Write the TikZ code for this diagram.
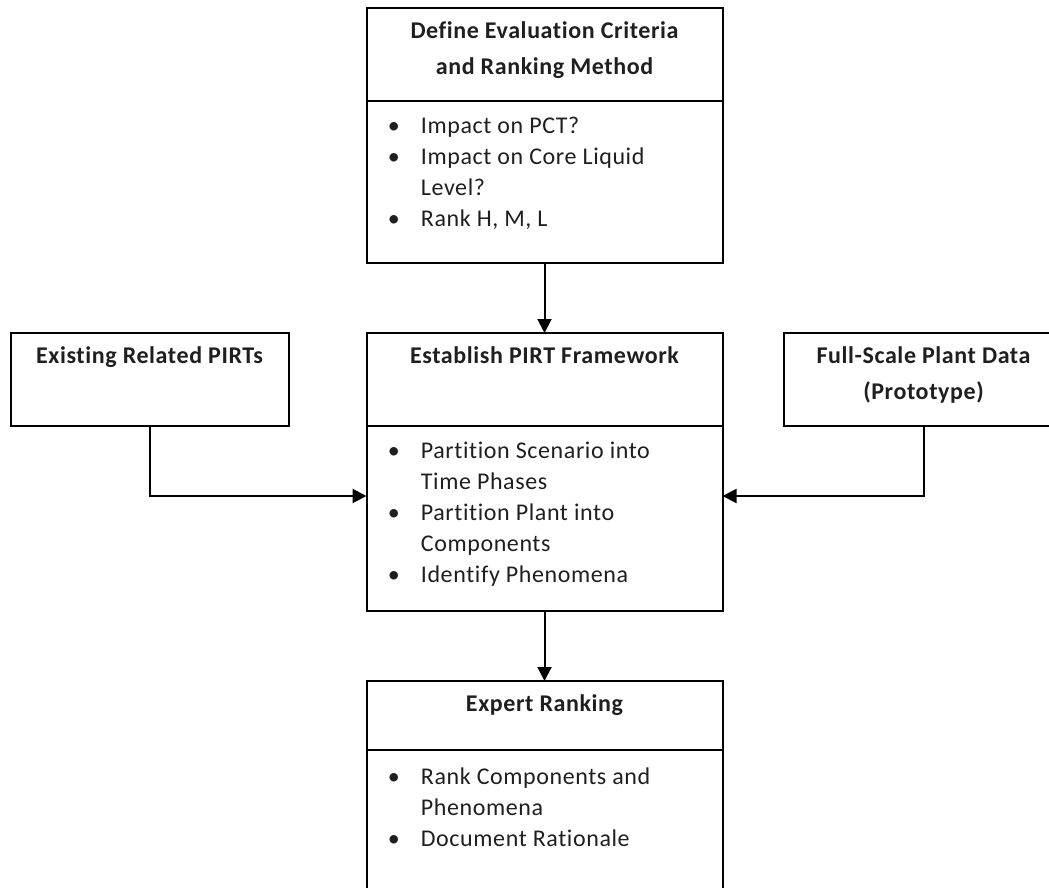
\documentclass[tikz,border=0pt]{standalone}
\usepackage{fontspec}
\setmainfont[Ligatures=NoCommon, LetterSpace=2.5]{Carlito}
\usetikzlibrary{positioning,arrows.meta}

\tikzset{
  hd/.style={draw, line width=1pt, minimum width=178pt, minimum height=46.5pt, inner sep=0pt, outer sep=0pt},
  bd/.style={draw, line width=1pt, minimum width=178pt, inner sep=0pt, outer sep=0pt},
  ttl/.style={font=\fontsize{12}{18}\selectfont\bfseries, text=black!88, align=center, anchor=north, inner sep=0pt},
  txt/.style={font=\fontsize{12}{15.5}\selectfont, text=black!88, align=left, anchor=north west, inner sep=0pt},
  link/.style={line width=1pt, -{Triangle[length=7pt,width=7pt]}}
}
\newcommand{\bul}{\makebox[16.5pt][l]{\textbullet}}
\newcommand{\ind}{\hspace*{16.5pt}}

\begin{document}
\begin{tikzpicture}
  \useasboundingbox (0,0) rectangle (524.5pt,-444pt);
  \clip (0,0) rectangle (524.5pt,-444pt);

  % Evaluation criteria
  \node[hd] (defH) at (272.25pt,-27.25pt) {};
  \node[bd, minimum height=81pt, below=0pt of defH] (defB) {};
  \node[ttl, below=6.5pt of defH.north] (defL) {Define Evaluation Criteria\\and Ranking Method};
  \node[txt] (defX) at ([xshift=10.5pt,yshift=-8pt]defB.north west)
    {\bul Impact on PCT?\\ \bul Impact on Core Liquid\\ \ind Level?\\ \bul Rank H, M, L};

  % PIRT framework
  \node[hd, below=35pt of defB] (estH) {};
  \node[bd, minimum height=92.5pt, below=0pt of estH] (estB) {};
  \node[ttl, below=6.5pt of estH.north] (estL) {Establish PIRT Framework};
  \node[txt] (estX) at ([xshift=10.5pt,yshift=-8pt]estB.north west)
    {\bul Partition Scenario into\\ \ind Time Phases\\ \bul Partition Plant into\\ \ind Components\\ \bul Identify Phenomena};

  % Inputs on both sides
  \node[hd, minimum width=139pt, left=39pt of estH] (pirH) {};
  \node[ttl, below=6.5pt of pirH.north] (pirL) {Existing Related PIRTs};
  \node[hd, minimum width=140pt, right=30.5pt of estH] (fsdH) {};
  \node[ttl, below=6.5pt of fsdH.north] (fsdL) {Full-Scale Plant Data\\(Prototype)};

  % Expert ranking
  \node[hd, minimum height=34.5pt, below=35pt of estB] (expH) {};
  \node[bd, minimum height=75pt, below=0pt of expH] (expB) {};
  \node[ttl, below=6.5pt of expH.north] (expL) {Expert Ranking};
  \node[txt] (expX) at ([xshift=10.5pt,yshift=-8.5pt]expB.north west)
    {\bul Rank Components and\\ \ind Phenomena\\ \bul Document Rationale};

  % Arrows
  \draw[link] (defB) -- (estH);
  \draw[link] (estB) -- (expH);
  \draw[link] (pirH.south) |- ([yshift=11.25pt]estB.west);
  \draw[link] (fsdH.south) |- ([yshift=11.25pt]estB.east);
\end{tikzpicture}
\end{document}
